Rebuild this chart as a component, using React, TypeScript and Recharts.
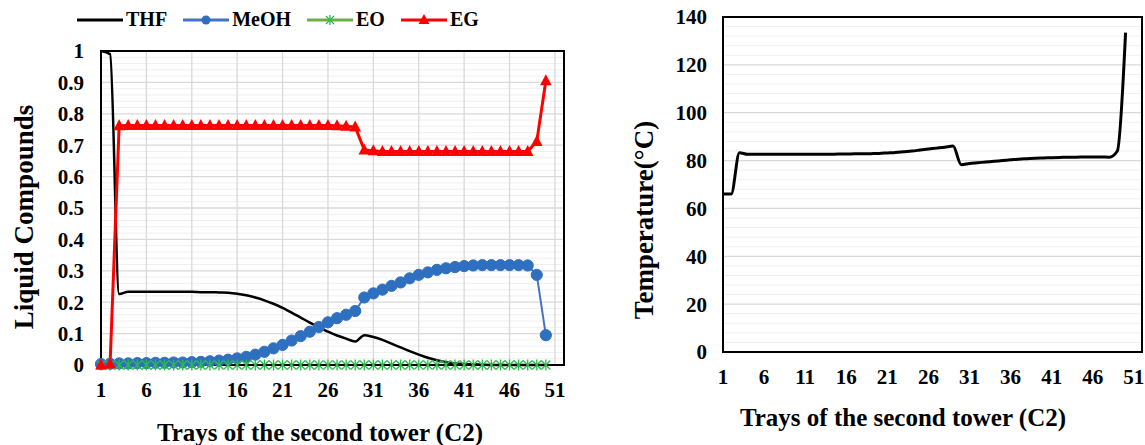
import React from 'react';
import {
  LineChart,
  Line,
  XAxis,
  YAxis,
  CartesianGrid,
  ReferenceArea,
} from 'recharts';

// trays 1..50 of column C2
const trays = [
  1, 2, 3, 4, 5, 6, 7, 8, 9, 10, 11, 12, 13, 14, 15, 16, 17, 18, 19, 20, 21, 22, 23, 24, 25,
  26, 27, 28, 29, 30, 31, 32, 33, 34, 35, 36, 37, 38, 39, 40, 41, 42, 43, 44, 45, 46, 47, 48, 49, 50,
];

const thf = [
  1.0, 0.99, 0.226, 0.233, 0.233, 0.233, 0.233, 0.233, 0.233, 0.233, 0.233, 0.232, 0.232, 0.231, 0.23,
  0.227, 0.222, 0.215, 0.206, 0.195, 0.182, 0.167, 0.151, 0.135, 0.12, 0.106, 0.094, 0.084, 0.075, 0.095,
  0.089, 0.08, 0.068, 0.056, 0.044, 0.033, 0.023, 0.015, 0.009, 0.005, 0.003, 0.002, 0.001, 0, 0,
  0, 0, 0, 0, 0,
];

const meoh = [
  0.003, 0.004, 0.005, 0.005, 0.006, 0.006, 0.007, 0.007, 0.008, 0.008, 0.009, 0.01, 0.012, 0.014, 0.017,
  0.021, 0.026, 0.033, 0.042, 0.053, 0.064, 0.078, 0.092, 0.106, 0.121, 0.136, 0.149, 0.16, 0.172, 0.215,
  0.228, 0.24, 0.252, 0.263, 0.276, 0.287, 0.295, 0.303, 0.308, 0.312, 0.315, 0.317, 0.318, 0.318, 0.318,
  0.318, 0.318, 0.317, 0.287, 0.095,
];

const eo = [
  0, 0, 0, 0, 0, 0, 0, 0, 0, 0, 0, 0, 0, 0, 0, 0, 0, 0, 0, 0, 0, 0, 0, 0, 0,
  0, 0, 0, 0, 0, 0, 0, 0, 0, 0, 0, 0, 0, 0, 0, 0, 0, 0, 0, 0, 0, 0, 0, 0, 0,
];

const eg = [
  0, 0.003, 0.762, 0.763, 0.763, 0.763, 0.763, 0.763, 0.763, 0.763, 0.763, 0.763, 0.763, 0.763, 0.763,
  0.763, 0.763, 0.763, 0.763, 0.763, 0.763, 0.763, 0.763, 0.763, 0.763, 0.763, 0.762, 0.76, 0.758, 0.685,
  0.682, 0.68, 0.68, 0.68, 0.68, 0.68, 0.68, 0.68, 0.68, 0.68, 0.68, 0.68, 0.68, 0.68, 0.68,
  0.68, 0.68, 0.68, 0.712, 0.905,
];

const temperature = [
  66, 66, 83.3, 82.6, 82.6, 82.6, 82.6, 82.6, 82.6, 82.6, 82.6, 82.6, 82.6, 82.6, 82.7,
  82.7, 82.8, 82.8, 82.9, 83.0, 83.2, 83.4, 83.7, 84.0, 84.4, 84.8, 85.2, 85.6, 86.1, 78.3,
  78.8, 79.1, 79.4, 79.7, 80.0, 80.3, 80.6, 80.8, 81.0, 81.1, 81.2, 81.3, 81.4, 81.4, 81.5,
  81.5, 81.5, 81.4, 84.0, 133.5,
];

const xTicks = [1, 6, 11, 16, 21, 26, 31, 36, 41, 46, 51];
const compTicks = [0, 0.1, 0.2, 0.3, 0.4, 0.5, 0.6, 0.7, 0.8, 0.9, 1];
const compMinor = [
  0.02, 0.04, 0.06, 0.08, 0.12, 0.14, 0.16, 0.18, 0.22, 0.24, 0.26, 0.28, 0.32, 0.34, 0.36, 0.38,
  0.42, 0.44, 0.46, 0.48, 0.52, 0.54, 0.56, 0.58, 0.62, 0.64, 0.66, 0.68, 0.72, 0.74, 0.76, 0.78,
  0.82, 0.84, 0.86, 0.88, 0.92, 0.94, 0.96, 0.98,
];
const tempTicks = [0, 20, 40, 60, 80, 100, 120, 140];
const tempMinor = [
  4, 8, 12, 16, 24, 28, 32, 36, 44, 48, 52, 56, 64, 68, 72, 76, 84, 88, 92, 96,
  104, 108, 112, 116, 124, 128, 132, 136,
];

const compData = trays.map((t, i) => ({ tray: t, THF: thf[i], MeOH: meoh[i], EO: eo[i], EG: eg[i] }));
const tempData = trays.map((t, i) => ({ tray: t, T: temperature[i] }));

const FONT = '"Liberation Serif", "Times New Roman", serif';
const tickStyle = { fontSize: 21, fontWeight: 'bold', fill: '#000', fontFamily: FONT };

const BLUE = '#2f6fbf';
const RED = '#ff0000';
const GREEN = '#70ad47';
const GREEN_MARK = '#2dbb4e';

const Circle = (props: any) => {
  const { cx, cy, index } = props;
  if (cx == null || cy == null) return <g key={index} />;
  return <circle key={index} cx={cx} cy={cy} r={5.6} fill={BLUE} stroke={BLUE} />;
};

const Triangle = (props: any) => {
  const { cx, cy, index } = props;
  if (cx == null || cy == null) return <g key={index} />;
  return <path key={index} d={`M${cx},${cy - 6.5}L${cx + 5.8},${cy + 4.5}L${cx - 5.8},${cy + 4.5}Z`} fill={RED} />;
};

const Star = (props: any) => {
  const { cx, cy, index } = props;
  if (cx == null || cy == null) return <g key={index} />;
  const s = 4.5;
  return (
    <g key={index} stroke={GREEN_MARK} strokeWidth={1.3}>
      <line x1={cx - s} y1={cy - s} x2={cx + s} y2={cy + s} />
      <line x1={cx - s} y1={cy + s} x2={cx + s} y2={cy - s} />
      <line x1={cx} y1={cy - s - 1} x2={cx} y2={cy + s + 1} />
    </g>
  );
};

const legendItems = [
  { name: 'THF', color: '#000', marker: 'none' },
  { name: 'MeOH', color: '#4472c4', marker: 'circle' },
  { name: 'EO', color: GREEN, marker: 'star' },
  { name: 'EG', color: RED, marker: 'triangle' },
];

function LegendIcon({ color, marker }: { color: string; marker: string }) {
  return (
    <svg width={46} height={14} style={{ display: 'block' }}>
      <line x1={0} y1={7} x2={46} y2={7} stroke={color} strokeWidth={3} />
      {marker === 'circle' && <circle cx={23} cy={7} r={4.5} fill={BLUE} />}
      {marker === 'triangle' && <path d="M23,1L28.5,11L17.5,11Z" fill={RED} />}
      {marker === 'star' && (
        <g stroke={GREEN_MARK} strokeWidth={1.3}>
          <line x1={19} y1={3} x2={27} y2={11} />
          <line x1={19} y1={11} x2={27} y2={3} />
          <line x1={23} y1={2} x2={23} y2={12} />
        </g>
      )}
    </svg>
  );
}

const titleStyle: React.CSSProperties = {
  position: 'absolute',
  fontFamily: FONT,
  fontWeight: 'bold',
  fontSize: 25,
  color: '#000',
  whiteSpace: 'nowrap',
  transform: 'translate(-50%, -50%)',
};

export default function App() {
  return (
    <div style={{ position: 'absolute', left: 0, top: 0, width: 1145, height: 445, background: '#fff' }}>
      {/* legend */}
      <div
        style={{
          position: 'absolute', left: 77, top: 8, display: 'flex', alignItems: 'center',
          fontFamily: FONT, fontWeight: 'bold', fontSize: 20,
        }}
      >
        {legendItems.map((it) => (
          <div key={it.name} style={{ display: 'flex', alignItems: 'center', marginRight: 16 }}>
            <LegendIcon color={it.color} marker={it.marker} />
            <span style={{ marginLeft: 3 }}>{it.name}</span>
          </div>
        ))}
      </div>

      {/* left chart: liquid compositions */}
      <div style={{ position: 'absolute', left: 0, top: 0 }}>
        <LineChart width={570} height={445} data={compData} margin={{ top: 51, right: 6, bottom: 50, left: 41 }}>
          <CartesianGrid horizontalValues={compMinor} vertical={false} stroke="#efefef" strokeWidth={1} />
          <CartesianGrid horizontalValues={compTicks} verticalValues={xTicks} stroke="#d9d9d9" strokeWidth={1.3} />
          <XAxis
            dataKey="tray" type="number" domain={[1, 52]} ticks={xTicks} interval={0}
            height={30} tickSize={0} tickMargin={17} tick={tickStyle}
            axisLine={{ stroke: '#000', strokeWidth: 2 }}
          />
          <YAxis
            type="number" domain={[0, 1]} ticks={compTicks} interval={0}
            width={60} tickSize={0} tickMargin={17} tick={tickStyle}
            axisLine={{ stroke: '#000', strokeWidth: 2 }}
          />
          <ReferenceArea x1={1} x2={52} y1={0} y2={1} fill="none" stroke="#000" strokeWidth={2} />
          <Line type="monotone" dataKey="THF" stroke="#000" strokeWidth={2.5} dot={false} isAnimationActive={false} />
          <Line type="linear" dataKey="MeOH" stroke="#4472c4" strokeWidth={2} dot={Circle} isAnimationActive={false} />
          <Line type="linear" dataKey="EO" stroke={GREEN} strokeWidth={2} dot={Star} isAnimationActive={false} />
          <Line type="linear" dataKey="EG" stroke={RED} strokeWidth={3} dot={Triangle} isAnimationActive={false} />
        </LineChart>
      </div>
      <div style={{ ...titleStyle, fontSize: 27, left: 24, top: 217, transform: 'translate(-50%, -50%) rotate(-90deg)' }}>
        Liquid Compounds
      </div>
      <div style={{ ...titleStyle, left: 320, top: 433 }}>Trays of the second tower (C2)</div>

      {/* right chart: temperature profile */}
      <div style={{ position: 'absolute', left: 575, top: 0 }}>
        <LineChart width={570} height={445} data={tempData} margin={{ top: 17, right: 3, bottom: 63, left: 88 }}>
          <CartesianGrid horizontalValues={tempMinor} vertical={false} stroke="#efefef" strokeWidth={1} />
          <CartesianGrid horizontalValues={tempTicks} vertical={false} stroke="#d9d9d9" strokeWidth={1.3} />
          <XAxis
            dataKey="tray" type="number" domain={[1, 52]} ticks={xTicks} interval={0}
            height={30} tickSize={0} tickMargin={17} tick={tickStyle}
            axisLine={{ stroke: '#000', strokeWidth: 2 }}
          />
          <YAxis
            type="number" domain={[0, 140]} ticks={tempTicks} interval={0}
            width={60} tickSize={0} tickMargin={16} tick={tickStyle}
            axisLine={{ stroke: '#000', strokeWidth: 2 }}
          />
          <ReferenceArea x1={1} x2={52} y1={0} y2={140} fill="none" stroke="#000" strokeWidth={2} />
          <Line type="monotone" dataKey="T" stroke="#000" strokeWidth={3} dot={false} isAnimationActive={false} />
        </LineChart>
      </div>
      <div style={{ ...titleStyle, fontSize: 27, left: 644, top: 220, transform: 'translate(-50%, -50%) rotate(-90deg)' }}>
        Temperature(°C)
      </div>
      <div style={{ ...titleStyle, left: 903, top: 418 }}>Trays of the second tower (C2)</div>
    </div>
  );
}
